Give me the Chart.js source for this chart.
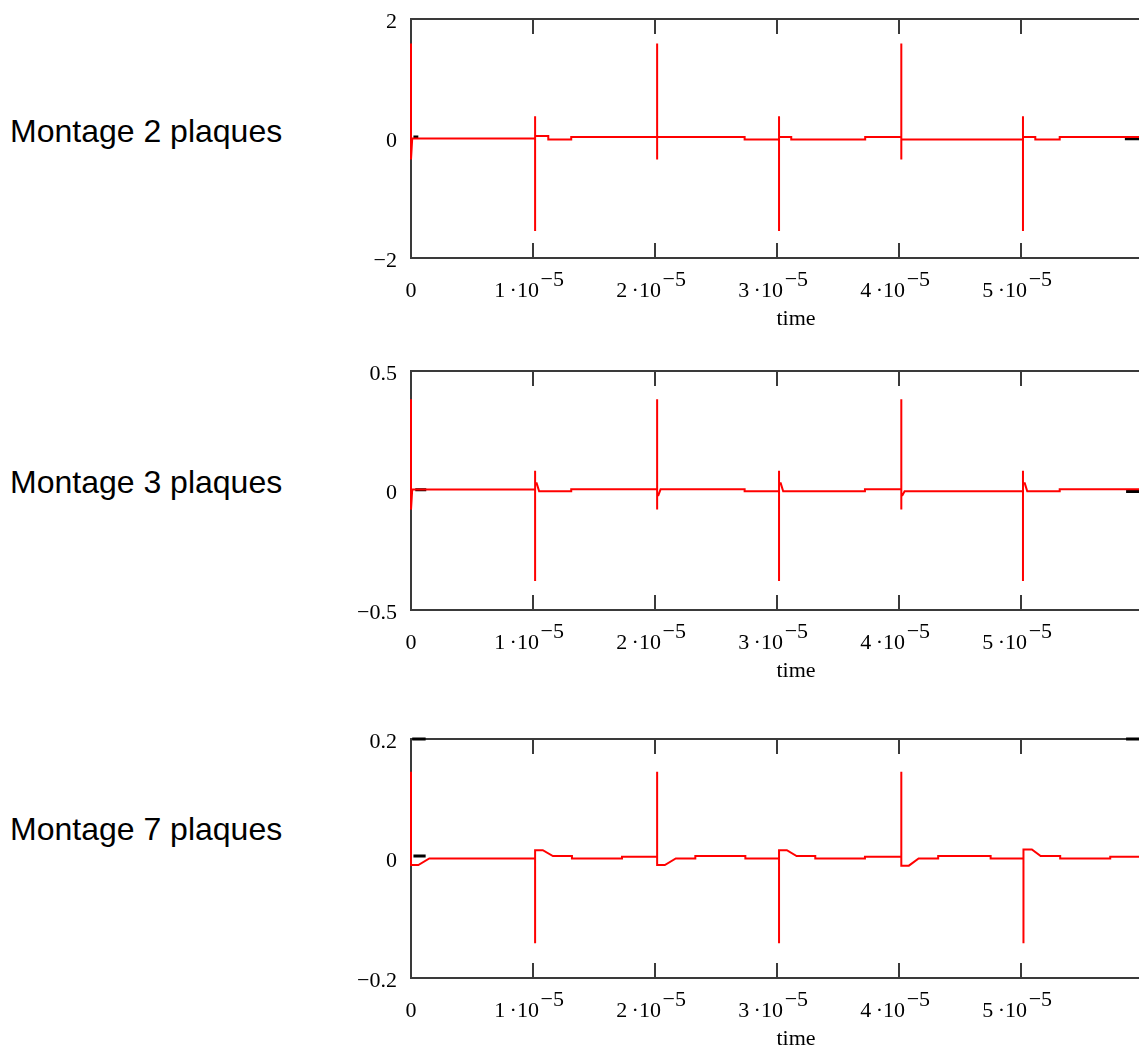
<!DOCTYPE html>
<html>
<head>
<meta charset="utf-8">
<script src="https://cdn.jsdelivr.net/npm/chart.js@4.4.1/dist/chart.umd.min.js"></script>
<style>
  html, body { margin: 0; padding: 0; background: #fff; width: 1139px; height: 1048px; overflow: hidden; }
  .label { position: absolute; left: 10px; font: 32px/32px 'Liberation Sans', Arial, sans-serif; color: #000; white-space: nowrap; }
  canvas { position: absolute; left: 320px; }
</style>
</head>
<body>
<div class="label" style="top:115px">Montage 2 plaques</div>
<div class="label" style="top:466px">Montage 3 plaques</div>
<div class="label" style="top:813px">Montage 7 plaques</div>
<canvas id="c2" width="900" height="340" style="top:0px"></canvas>
<canvas id="c3" width="900" height="340" style="top:352px"></canvas>
<canvas id="c7" width="900" height="340" style="top:720px"></canvas>
<script>
// x axis (seconds)
const xTicks = [0, 1e-5, 2e-5, 3e-5, 4e-5, 5e-5];
const xTickMantissa = ['0', '1', '2', '3', '4', '5'];
const xExponent = '\u22125';
const xMax = 6.31e-5;

// Montage 2 plaques
const time2 = [0, 0, 0.01e-5, 1.017e-5, 1.017e-5, 1.017e-5, 1.017e-5, 1.125e-5, 1.125e-5, 1.313e-5,
  1.313e-5, 2.017e-5, 2.017e-5, 2.017e-5, 2.017e-5, 2.734e-5, 2.734e-5, 3.016e-5, 3.016e-5, 3.016e-5,
  3.016e-5, 3.116e-5, 3.116e-5, 3.722e-5, 3.722e-5, 4.018e-5, 4.018e-5, 4.018e-5, 4.018e-5, 5.015e-5,
  5.015e-5, 5.015e-5, 5.015e-5, 5.116e-5, 5.116e-5, 5.316e-5, 5.316e-5, 6.31e-5];
const volt2 = [1.59, -0.35, 0, 0, 0.373, -1.55, 0.04, 0.04, -0.017, -0.017,
  0.027, 0.027, 1.59, -0.35, 0.027, 0.027, -0.017, -0.017, 0.373, -1.55,
  0.027, 0.027, -0.017, -0.017, 0.027, 0.027, 1.59, -0.35, -0.017, -0.017,
  0.373, -1.55, 0.027, 0.027, -0.017, -0.017, 0.027, 0.027];
const markTime2 = [0.02e-5, 0.06e-5, 0.06e-5, 5.85e-5, 5.97e-5];
const markVolt2 = [0.027, 0.027, null, -0.005, -0.005];
const yTicks2 = [-2, 0, 2];
const yLabels2 = ['\u22122', '0', '2'];

// Montage 3 plaques
const time3 = [0, 0, 0.01e-5, 1.017e-5, 1.017e-5, 1.017e-5, 1.017e-5, 1.03e-5, 1.05e-5, 1.313e-5, 1.313e-5,
  2.017e-5, 2.017e-5, 2.017e-5, 2.017e-5, 2.027e-5, 2.045e-5, 2.734e-5, 2.734e-5, 3.016e-5, 3.016e-5, 3.016e-5,
  3.016e-5, 3.03e-5, 3.05e-5, 3.72e-5, 3.72e-5, 4.018e-5, 4.018e-5, 4.018e-5, 4.018e-5, 4.027e-5, 4.045e-5,
  5.015e-5, 5.015e-5, 5.015e-5, 5.015e-5, 5.03e-5, 5.05e-5, 5.316e-5, 5.316e-5, 6.31e-5];
const volt3 = [0.382, -0.08, 0.004, 0.004, 0.083, -0.379, 0.03, 0.03, -0.003, -0.003, 0.005,
  0.005, 0.382, -0.08, -0.02, -0.02, 0.005, 0.005, -0.003, -0.003, 0.083, -0.379,
  0.03, 0.03, -0.003, -0.003, 0.005, 0.005, 0.382, -0.08, -0.02, -0.02, -0.003,
  -0.003, 0.083, -0.379, 0.03, 0.03, -0.003, -0.003, 0.005, 0.005];
const markTime3 = [0.035e-5, 0.125e-5, 0.125e-5, 5.86e-5, 5.97e-5];
const markVolt3 = [0.003, 0.003, null, -0.004, -0.004];
const yTicks3 = [-0.5, 0, 0.5];
const yLabels3 = ['\u22120.5', '0', '0.5'];

// Montage 7 plaques
const time7 = [0, 0, 0.06e-5, 0.15e-5, 1.017e-5, 1.017e-5, 1.017e-5, 1.08e-5, 1.163e-5, 1.319e-5,
  1.319e-5, 1.729e-5, 1.729e-5, 2.017e-5, 2.017e-5, 2.017e-5, 2.08e-5, 2.17e-5, 2.33e-5, 2.33e-5,
  2.74e-5, 2.74e-5, 3.016e-5, 3.016e-5, 3.016e-5, 3.08e-5, 3.16e-5, 3.313e-5, 3.313e-5, 3.72e-5,
  3.72e-5, 4.018e-5, 4.018e-5, 4.018e-5, 4.08e-5, 4.16e-5, 4.32e-5, 4.32e-5, 4.75e-5, 4.75e-5,
  5.019e-5, 5.019e-5, 5.019e-5, 5.088e-5, 5.16e-5, 5.32e-5, 5.32e-5, 5.73e-5, 5.73e-5, 6.31e-5];
const volt7 = [0.145, -0.011, -0.011, 0, 0, -0.142, 0.014, 0.014, 0.004, 0.004,
  0, 0, 0.003, 0.003, 0.145, -0.011, -0.011, 0, 0, 0.004,
  0.004, 0, 0, -0.142, 0.014, 0.014, 0.004, 0.004, 0, 0,
  0.003, 0.003, 0.145, -0.012, -0.012, 0, 0, 0.004, 0.004, 0,
  0, -0.142, 0.015, 0.015, 0.004, 0.004, 0, 0, 0.003, 0.003];
const markTime7 = [0.01e-5, 0.12e-5, 0.12e-5, 0.02e-5, 0.12e-5, 0.12e-5, 5.86e-5, 5.97e-5];
const markVolt7 = [0.2, 0.2, null, 0.004, 0.004, null, 0.2, 0.2];
const yTicks7 = [-0.2, 0, 0.2];
const yLabels7 = ['\u22120.2', '0', '0.2'];

const serif = "'Liberation Serif', 'Times New Roman', serif";
const nb = n => '\u00a0'.repeat(n);

const framePlugin = {
  id: 'frame',
  beforeDatasetsDraw(chart) {
    const {ctx, chartArea: a, scales: {x}} = chart;
    ctx.save();
    ctx.strokeStyle = '#3a3a3a';
    ctx.lineWidth = 2;
    ctx.strokeRect(a.left, a.top, a.right - a.left, a.bottom - a.top);
    ctx.beginPath();
    x.ticks.forEach(t => {
      if (t.value === 0) return;
      const px = Math.round(x.getPixelForValue(t.value));
      ctx.moveTo(px, a.top); ctx.lineTo(px, a.top + 15);
      ctx.moveTo(px, a.bottom); ctx.lineTo(px, a.bottom - 15);
    });
    ctx.stroke();
    ctx.restore();
  }
};

function pts(ts, vs) {
  return ts.map((t, i) => ({x: t, y: vs[i]}));
}

function makeChart(id, time, volt, markTime, markVolt, yTicks, yLabels) {
  new Chart(document.getElementById(id), {
    type: 'scatter',
    data: {
      datasets: [
        {
          data: pts(time, volt),
          showLine: true,
          borderColor: 'rgb(255, 0, 0)',
          borderWidth: 2,
          pointRadius: 0,
          clip: false
        },
        {
          data: pts(markTime, markVolt),
          showLine: true,
          spanGaps: false,
          borderColor: '#000',
          borderWidth: 3,
          pointRadius: 0,
          clip: false
        }
      ]
    },
    options: {
      responsive: false,
      animation: false,
      events: [],
      layout: { padding: { top: 19, right: 39, left: 0, bottom: 0 } },
      plugins: { legend: { display: false }, tooltip: { enabled: false } },
      scales: {
        x: {
          type: 'linear',
          min: 0,
          max: xMax,
          grid: { display: false, drawTicks: false },
          border: { display: false },
          afterBuildTicks: s => { s.ticks = xTicks.map(v => ({value: v})); },
          afterFit: s => { s.height = 82; s.paddingLeft = 0; s.paddingRight = 0; },
          ticks: {
            autoSkip: false,
            maxRotation: 0,
            padding: 16,
            color: '#000',
            font: { family: serif, size: 22, lineHeight: 0.52 },
            callback: (v, i) => {
              const m = xTickMantissa[i];
              return m === '0' ? ['', '0'] : [nb(7) + xExponent, m + '\u2009\u00b710' + nb(6)];
            }
          },
          title: {
            display: true,
            text: 'time',
            color: '#000',
            font: { family: serif, size: 22, lineHeight: 1.2 },
            padding: { top: 0, bottom: 8 }
          }
        },
        y: {
          min: yTicks[0],
          max: yTicks[yTicks.length - 1],
          grid: { display: false, drawTicks: false },
          border: { display: false },
          afterBuildTicks: s => { s.ticks = yTicks.map(v => ({value: v})); },
          afterFit: s => { s.width = 91; s.paddingTop = 0; s.paddingBottom = 0; },
          ticks: {
            padding: 14,
            labelOffset: 3,
            color: '#000',
            font: { family: serif, size: 22 },
            callback: (v, i) => yLabels[i]
          }
        }
      }
    },
    plugins: [framePlugin]
  });
}

makeChart('c2', time2, volt2, markTime2, markVolt2, yTicks2, yLabels2);
makeChart('c3', time3, volt3, markTime3, markVolt3, yTicks3, yLabels3);
makeChart('c7', time7, volt7, markTime7, markVolt7, yTicks7, yLabels7);
</script>
</body>
</html>
